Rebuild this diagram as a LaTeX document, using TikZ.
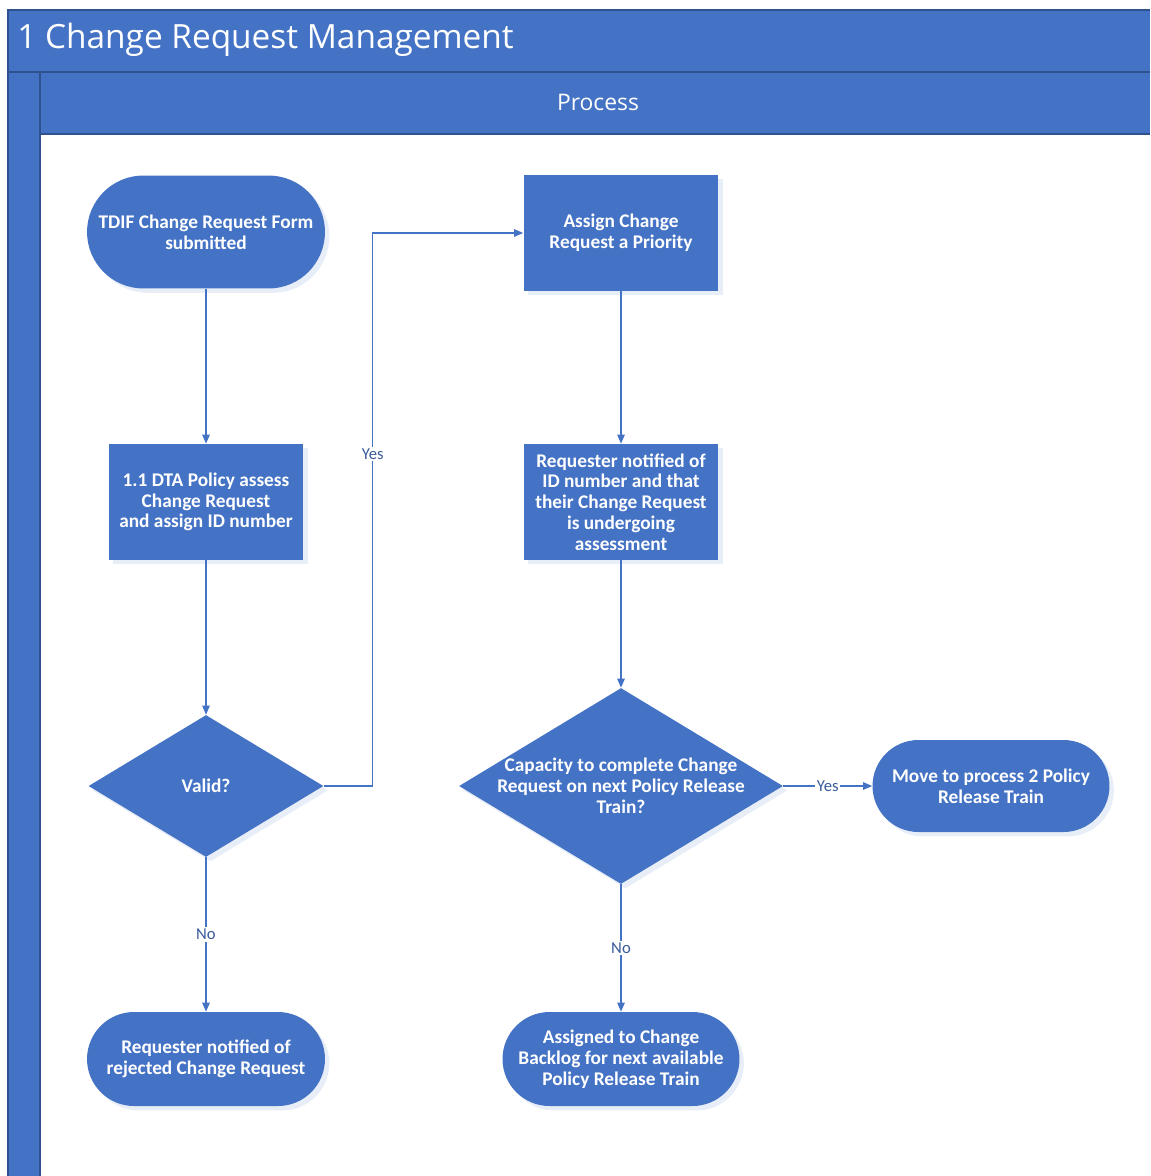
\documentclass[tikz,border=0pt]{standalone}
\usepackage{fontspec}
\setmainfont{Open Sans}
\newfontfamily\nodefont{Carlito}
\usetikzlibrary{shapes.geometric,arrows.meta,shadows}
\definecolor{flowblue}{HTML}{4472C4}
\definecolor{lanedark}{HTML}{2F528F}
\definecolor{labelblue}{HTML}{3A5A9A}

\begin{document}
\begin{tikzpicture}[x=0.02cm, y=-0.02cm,
	shape base/.style={fill=flowblue, draw=none, text=white, align=center, inner sep=0pt,
		font=\nodefont\bfseries\fontsize{11}{11.8}\selectfont,
		drop shadow={opacity=0.12, fill=flowblue, shadow xshift=2.5pt, shadow yshift=-2.5pt}},
	terminal/.style={shape base, rectangle, minimum width=4.76cm, minimum height=1.88cm, rounded corners=0.94cm},
	process/.style={shape base, rectangle, minimum width=3.9cm, minimum height=2.32cm},
	decision/.style={shape base, diamond},
	qtext/.style={text=white, align=center, inner sep=0pt, font=\nodefont\bfseries\fontsize{11}{11.8}\selectfont},
	flow/.style={draw=flowblue, line width=0.6pt, -{Triangle[length=1.8mm, width=1.5mm]}},
	lbl/.style={fill=white, inner sep=1pt, text=labelblue, font=\nodefont\fontsize{9.5}{10}\selectfont}]
	\useasboundingbox (0,0) rectangle (1150,1176);
	
	% Swimlane
	\fill[flowblue] (8,10) rectangle (1150,72);
	\fill[flowblue] (8,72) rectangle (40,1176);
	\fill[flowblue] (40,72) rectangle (1150,134);
	\draw[lanedark, line width=0.8pt] (1150,10) -- (8,10) -- (8,1176);
	\draw[lanedark, line width=0.8pt] (8,72) -- (1150,72);
	\draw[lanedark, line width=0.8pt] (40,1176) -- (40,72);
	\draw[lanedark, line width=0.8pt] (40,134) -- (1150,134);
	\node[anchor=west, text=white, font=\fontsize{19}{23}\selectfont, inner sep=0pt] (title) at (17,40) {1 Change Request Management};
	\node[text=white, font=\fontsize{13}{16}\selectfont, inner sep=0pt] (lane) at (598,102) {Process};
	
	% Left column
	\node[terminal, minimum height=2.26cm, rounded corners=1.13cm] (start) at (206,232) {TDIF Change Request Form\\submitted};
	\node[process] (assess) at (206,502) {1.1 DTA Policy assess\\Change Request\\and assign ID number};
	\node[decision, minimum width=4.7cm, minimum height=2.84cm] (valid) at (206,786) {};
	\node[qtext] at (valid) {Valid?};
	\node[terminal] (rejected) at (206,1059) {Requester notified of\\rejected Change Request};
	
	% Right column
	\node[process] (priority) at (621,233) {Assign Change\\Request a Priority};
	\node[process] (notified) at (621,502) {Requester notified of\\ID number and that\\their Change Request\\is undergoing\\assessment};
	\node[decision, minimum width=6.48cm, minimum height=3.92cm] (capacity) at (621,786) {};
	\node[qtext] at (capacity) {Capacity to complete Change\\Request on next Policy Release\\Train?};
	\node[terminal, minimum width=4.74cm] (backlog) at (621,1059) {Assigned to Change\\Backlog for next available\\Policy Release Train};
	\node[terminal, minimum width=4.74cm, minimum height=1.84cm, rounded corners=0.92cm] (train) at (991,786) {Move to process 2 Policy\\Release Train};
	
	% Connectors
	\draw[flow] (start) -- (assess);
	\draw[flow] (assess) -- (valid);
	\draw[flow] (valid) -- node[lbl] {No} (rejected);
	\draw[flow] (valid.east) -- ++(49,0) |- node[lbl, pos=0.3] {Yes} (priority.west);
	\draw[flow] (priority) -- (notified);
	\draw[flow] (notified) -- (capacity);
	\draw[flow] (capacity) -- node[lbl] {No} (backlog);
	\draw[flow] (capacity) -- node[lbl] {Yes} (train);
\end{tikzpicture}
\end{document}
